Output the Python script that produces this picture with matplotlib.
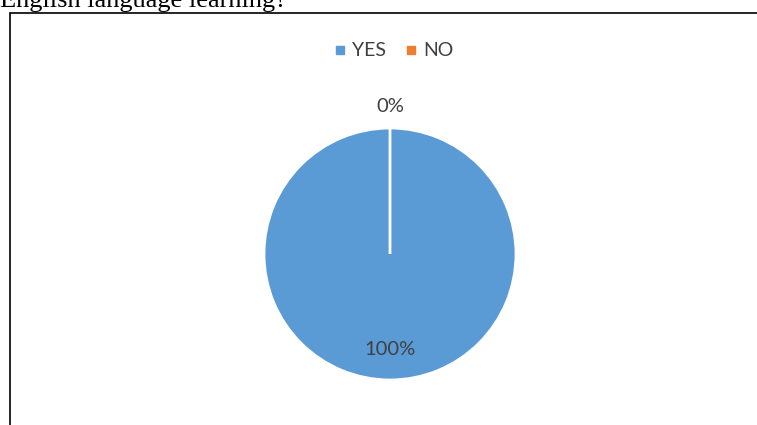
import matplotlib.pyplot as plt
import matplotlib.patches as Patches
from matplotlib.lines import Line2D

# data
categories = ['YES', 'NO']
values = [100, 0]
colors = ['#5B9BD5', '#ED7D31']
caption = 'English language learning?'

W, H = 757, 425
fig = plt.figure(figsize=(W / 100, H / 100), dpi=100)

# caption text from the page, cut off at the top
fig.text(0 / W, 1 - 7 / H, caption, family='Liberation Serif', fontsize=19,
         color='black', ha='left', va='baseline')

# chart frame
fig.patches.append(Patches.Rectangle((10 / W, -0.1), 1.1, 1 - 13 / H + 0.1,
                                     transform=fig.transFigure, fill=False,
                                     edgecolor='black', linewidth=1.2))

# pie area: center (390, 254), radius 126 px
r = 126
cx, cy = 390, 254
ax = fig.add_axes([(cx - r) / W, 1 - (cy + r) / H, 2 * r / W, 2 * r / H])
wedges, texts, autotexts = ax.pie(values, colors=colors, startangle=90,
                                  counterclock=False, autopct='%1.0f%%',
                                  pctdistance=0.76, radius=1,
                                  wedgeprops=dict(edgecolor='white', linewidth=2),
                                  textprops=dict(family='Lato', fontsize=14.5,
                                                 color='#404040'))
ax.set_xlim(-1, 1)
ax.set_ylim(-1, 1)
ax.set_aspect('equal')

# tiny slices get their label outside the pie
for v, t in zip(values, autotexts):
    if v == 0:
        x, y = t.get_position()
        t.set_position((x / 0.76 * 1.17, y / 0.76 * 1.17))

# legend at the top
handles = [Line2D([], [], marker='s', linestyle='', markersize=6,
                  color=c) for c in colors]
fig.legend(handles, categories, loc='center', bbox_to_anchor=(393 / W, 1 - 51 / H),
           ncol=2, frameon=False, prop=dict(family='Lato', size=14),
           labelcolor='#404040', handletextpad=0.22, columnspacing=0.9,
           handlelength=0.8)

fig.savefig('out.png', dpi=100)
